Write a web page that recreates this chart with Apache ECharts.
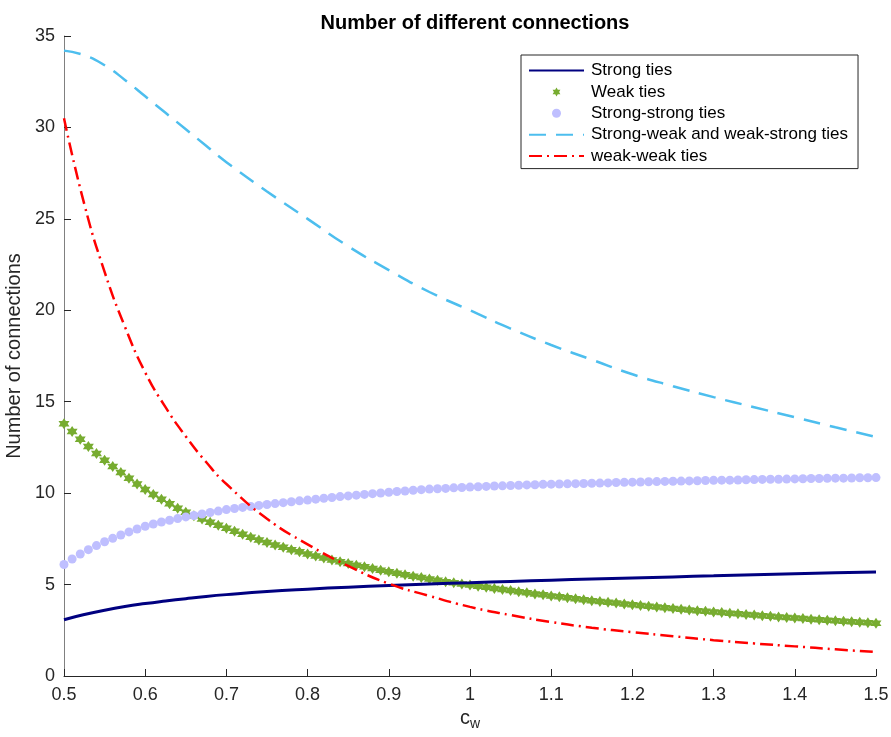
<!DOCTYPE html>
<html>
<head>
<meta charset="utf-8">
<title>Number of different connections</title>
<script src="https://cdn.jsdelivr.net/npm/echarts@6/dist/echarts.min.js"></script>
<style>
  html, body { margin: 0; padding: 0; background: #fff; }
  #chart { width: 891px; height: 737px; }
</style>
</head>
<body>
<div id="chart"></div>
<script>
// x positions of the solid / dashed curves
var lineX = [0.5, 0.525, 0.55, 0.575, 0.6, 0.625, 0.65, 0.675, 0.7, 0.75, 0.8, 0.85, 0.9, 0.95,
    1.0, 1.05, 1.1, 1.15, 1.2, 1.25, 1.3, 1.35, 1.4, 1.45, 1.5];
var strongTies = [3.08, 3.36, 3.60, 3.80, 3.96, 4.10, 4.23, 4.35, 4.45, 4.62, 4.75, 4.86, 4.95, 5.03,
    5.10, 5.17, 5.24, 5.30, 5.36, 5.42, 5.48, 5.54, 5.59, 5.64, 5.69];
var strongWeak = [34.2, 33.95, 33.4, 32.6, 31.7, 30.8, 29.9, 29.0, 28.1, 26.5, 25.0, 23.5, 22.2, 21.0,
    20.0, 19.0, 18.1, 17.3, 16.5, 15.85, 15.25, 14.7, 14.15, 13.6, 13.07];
var weakWeak = [30.5, 25.8, 22.1, 19.1, 16.6, 14.7, 13.1, 11.7, 10.5, 8.6, 7.2, 6.02, 5.05, 4.38,
    3.78, 3.33, 2.95, 2.64, 2.40, 2.18, 1.96, 1.78, 1.62, 1.46, 1.31];

// marker series, one point every 0.01 from 0.5 to 1.5
var markerX = [0.50, 0.51, 0.52, 0.53, 0.54, 0.55, 0.56, 0.57, 0.58, 0.59,
    0.60, 0.61, 0.62, 0.63, 0.64, 0.65, 0.66, 0.67, 0.68, 0.69,
    0.70, 0.71, 0.72, 0.73, 0.74, 0.75, 0.76, 0.77, 0.78, 0.79,
    0.80, 0.81, 0.82, 0.83, 0.84, 0.85, 0.86, 0.87, 0.88, 0.89,
    0.90, 0.91, 0.92, 0.93, 0.94, 0.95, 0.96, 0.97, 0.98, 0.99,
    1.00, 1.01, 1.02, 1.03, 1.04, 1.05, 1.06, 1.07, 1.08, 1.09,
    1.10, 1.11, 1.12, 1.13, 1.14, 1.15, 1.16, 1.17, 1.18, 1.19,
    1.20, 1.21, 1.22, 1.23, 1.24, 1.25, 1.26, 1.27, 1.28, 1.29,
    1.30, 1.31, 1.32, 1.33, 1.34, 1.35, 1.36, 1.37, 1.38, 1.39,
    1.40, 1.41, 1.42, 1.43, 1.44, 1.45, 1.46, 1.47, 1.48, 1.49, 1.50];
var weakTies = [13.80, 13.37, 12.95, 12.55, 12.17, 11.80, 11.46, 11.13, 10.81, 10.50,
    10.20, 9.93, 9.67, 9.42, 9.18, 8.95, 8.76, 8.58, 8.41, 8.24,
    8.08, 7.91, 7.75, 7.59, 7.44, 7.30, 7.17, 7.04, 6.91, 6.79,
    6.67, 6.56, 6.45, 6.35, 6.25, 6.15, 6.06, 5.97, 5.88, 5.79,
    5.70, 5.62, 5.54, 5.46, 5.38, 5.30, 5.23, 5.16, 5.10, 5.03,
    4.97, 4.91, 4.85, 4.79, 4.73, 4.67, 4.61, 4.55, 4.49, 4.44,
    4.38, 4.33, 4.28, 4.22, 4.17, 4.12, 4.08, 4.03, 3.99, 3.94,
    3.90, 3.86, 3.82, 3.77, 3.73, 3.69, 3.65, 3.61, 3.57, 3.54,
    3.50, 3.47, 3.43, 3.40, 3.36, 3.33, 3.30, 3.27, 3.23, 3.20,
    3.17, 3.14, 3.11, 3.08, 3.05, 3.02, 2.99, 2.96, 2.94, 2.91, 2.88];
var strongStrong = [6.10, 6.40, 6.67, 6.91, 7.13, 7.34, 7.53, 7.71, 7.88, 8.04,
    8.19, 8.31, 8.42, 8.52, 8.61, 8.70, 8.78, 8.86, 8.94, 9.02,
    9.10, 9.16, 9.22, 9.27, 9.33, 9.38, 9.43, 9.48, 9.53, 9.58,
    9.62, 9.67, 9.72, 9.76, 9.81, 9.85, 9.89, 9.93, 9.97, 10.01,
    10.05, 10.09, 10.12, 10.16, 10.19, 10.22, 10.24, 10.26, 10.29, 10.31,
    10.33, 10.35, 10.37, 10.39, 10.40, 10.42, 10.43, 10.45, 10.46, 10.48,
    10.49, 10.50, 10.51, 10.52, 10.53, 10.54, 10.55, 10.56, 10.58, 10.59,
    10.60, 10.61, 10.62, 10.63, 10.64, 10.65, 10.66, 10.67, 10.68, 10.69,
    10.70, 10.71, 10.71, 10.72, 10.73, 10.74, 10.75, 10.76, 10.76, 10.77,
    10.78, 10.79, 10.80, 10.80, 10.81, 10.82, 10.82, 10.83, 10.84, 10.84, 10.85];

var seriesNames = ['Strong ties', 'Weak ties', 'Strong-strong ties',
    'Strong-weak and weak-strong ties', 'weak-weak ties'];

function pairs(xs, ys) {
    var out = [];
    for (var i = 0; i < xs.length; i++) out.push([xs[i], ys[i]]);
    return out;
}

var hexagram = 'path://M0,-10L2.89,-5L8.66,-5L5.77,0L8.66,5L2.89,5L0,10L-2.89,5L-8.66,5L-5.77,0L-8.66,-5L-2.89,-5Z';
var font = '"Liberation Sans", Arial, Helvetica, sans-serif';
var axisColor = '#262626';

var myChart = echarts.init(document.getElementById('chart'));
var option = {
    backgroundColor: '#fff',
    animation: false,
    textStyle: { fontFamily: font },
    title: {
        text: 'Number of different connections',
        left: 470,
        textAlign: 'center',
        top: 8,
        textStyle: { fontSize: 20, fontWeight: 'bold', color: '#000', fontFamily: font }
    },
    legend: {
        orient: 'vertical',
        left: 521,
        top: 55,
        padding: [7, 10, 4, 7],
        itemGap: 4.4,
        itemWidth: 55,
        itemHeight: 9,
        borderColor: '#262626',
        borderWidth: 1,
        borderRadius: 0,
        backgroundColor: '#fff',
        textStyle: { fontSize: 17, color: '#000', fontFamily: font, padding: [0, 0, 0, 2] },
        data: [
            { name: seriesNames[0], itemStyle: { opacity: 0 } },
            { name: seriesNames[1] },
            { name: seriesNames[2] },
            { name: seriesNames[3], itemStyle: { opacity: 0 } },
            { name: seriesNames[4], itemStyle: { opacity: 0 } }
        ]
    },
    grid: { left: 64, right: 15, top: 36, bottom: 61, containLabel: false, outerBoundsMode: 'none' },
    xAxis: {
        type: 'value',
        min: 0.5,
        max: 1.5,
        interval: 0.1,
        name: 'c{sub|w}',
        nameLocation: 'middle',
        nameGap: 30,
        nameTextStyle: {
            fontSize: 20, color: axisColor,
            rich: { sub: { fontSize: 14, verticalAlign: 'bottom', padding: [10, 0, 0, 0], color: axisColor } }
        },
        splitLine: { show: false },
        axisLine: { onZero: false, lineStyle: { color: axisColor, width: 1 } },
        axisTick: { inside: true, length: 7, lineStyle: { color: axisColor } },
        axisLabel: { fontSize: 18, color: axisColor, margin: 10 }
    },
    yAxis: {
        type: 'value',
        min: 0,
        max: 35,
        interval: 5,
        name: 'Number of connections',
        nameLocation: 'middle',
        nameGap: 31,
        nameTextStyle: { fontSize: 20, color: axisColor },
        splitLine: { show: false },
        axisLine: { show: true, lineStyle: { color: '#808080', width: 1 } },
        axisTick: { show: true, inside: true, length: 7, lineStyle: { color: axisColor } },
        axisLabel: { fontSize: 18, color: axisColor, margin: 9 }
    },
    series: [
        {
            name: seriesNames[0],
            type: 'line',
            data: pairs(lineX, strongTies),
            smooth: true,
            symbol: 'none',
            color: '#000080',
            lineStyle: { color: '#000080', width: 3 }
        },
        {
            name: seriesNames[1],
            type: 'scatter',
            data: pairs(markerX, weakTies),
            symbol: hexagram,
            symbolSize: 11,
            color: '#77AC30',
            itemStyle: { color: '#77AC30', opacity: 1 }
        },
        {
            name: seriesNames[2],
            type: 'scatter',
            data: pairs(markerX, strongStrong),
            symbol: 'circle',
            symbolSize: 9,
            color: '#BFBFFF',
            itemStyle: { color: '#BFBFFF', opacity: 1 }
        },
        {
            name: seriesNames[3],
            type: 'line',
            data: pairs(lineX, strongWeak),
            smooth: true,
            symbol: 'none',
            color: '#4DBEEE',
            lineStyle: { color: '#4DBEEE', width: 2.5, type: [17, 10] }
        },
        {
            name: seriesNames[4],
            type: 'line',
            data: pairs(lineX, weakWeak),
            smooth: true,
            symbol: 'none',
            color: '#FF0000',
            lineStyle: { color: '#FF0000', width: 2.5, type: [13, 5, 2, 5] }
        }
    ]
};
myChart.setOption(option);
</script>
</body>
</html>
